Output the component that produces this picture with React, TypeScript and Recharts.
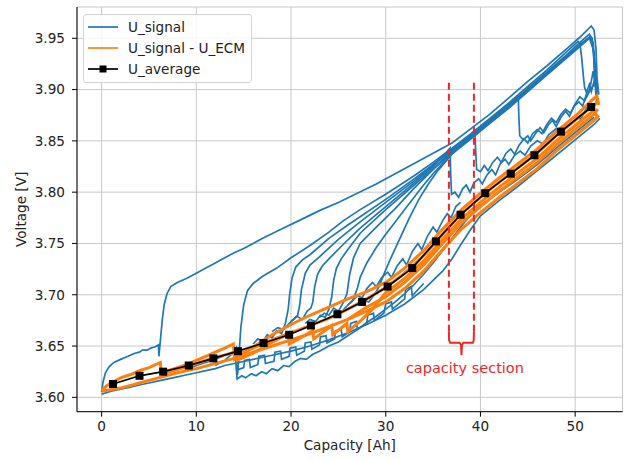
import {
  ComposedChart,
  CartesianGrid,
  Legend,
  Line,
  ReferenceDot,
  ReferenceLine,
  XAxis,
  YAxis,
} from "recharts";

type Pt = [number, number];

const BLUE = "#1f77b4";
const ORANGE = "#ff7f0e";
const RED = "#ef2525";
const FONT = "DejaVu Sans, sans-serif";

const xTicks = [0, 10, 20, 30, 40, 50];
const yTicks = [3.6, 3.65, 3.7, 3.75, 3.8, 3.85, 3.9, 3.95];
const xDomain: [number, number] = [-2.6, 55];
const yDomain: [number, number] = [3.586, 3.9805];

// U_average markers
const avgX = [1.2, 4.0, 6.5, 9.2, 11.8, 14.4, 17.1, 19.8, 22.1, 24.9, 27.5, 30.2, 32.8, 35.3, 37.9, 40.5, 43.2, 45.7, 48.5, 51.7];
const avgY = [3.613, 3.621, 3.625, 3.631, 3.638, 3.645, 3.653, 3.661, 3.67, 3.681, 3.693, 3.708, 3.726, 3.752, 3.778, 3.799, 3.818, 3.836, 3.859, 3.883];

// U_signal traces (one per test cycle)
const sigBottom: Pt[] = [[0, 3.603], [1, 3.606], [2, 3.608], [3, 3.61], [4, 3.612], [5, 3.614], [6, 3.616], [7, 3.618], [8, 3.62], [9, 3.622], [10, 3.624], [11, 3.626], [12, 3.628], [13, 3.631], [14, 3.633], [16, 3.637], [18, 3.641], [20, 3.645], [22, 3.65], [24, 3.656], [26, 3.663], [28, 3.671], [30, 3.68], [32, 3.691], [34, 3.705], [36, 3.723], [37, 3.735], [38, 3.75], [39, 3.764], [40, 3.777], [42, 3.792], [44, 3.806], [46, 3.821], [48, 3.836], [50, 3.851], [52, 3.866], [52.6, 3.872]];
const sigDip: Pt[] = [[12, 3.631], [13, 3.636], [13.6, 3.641], [14.1, 3.646], [14.2, 3.632], [14.3, 3.618], [14.8, 3.621], [15.2, 3.619], [15.8, 3.623], [16.3, 3.621], [16.9, 3.625], [17.4, 3.623], [18, 3.628], [18.6, 3.626], [19.2, 3.631], [19.8, 3.63], [20.4, 3.635], [21, 3.638], [21.6, 3.637], [22.3, 3.642], [23, 3.645], [24, 3.65], [25, 3.654], [26, 3.66], [27, 3.666], [28, 3.673], [29, 3.679], [30, 3.686], [31, 3.693], [32, 3.701], [33, 3.71], [34, 3.72], [35, 3.731], [36, 3.743], [37, 3.755], [38, 3.767], [39, 3.778], [40, 3.787], [42, 3.8], [44, 3.813], [46, 3.827], [48, 3.843], [50, 3.858], [52, 3.873]];
const sigSteps: Pt[] = [[14.4, 3.627], [15, 3.629], [15.1, 3.636], [15.6, 3.637], [15.7, 3.629], [16.5, 3.632], [16.6, 3.64], [17.2, 3.641], [17.3, 3.633], [18.2, 3.635], [18.3, 3.644], [18.9, 3.645], [19, 3.637], [19.8, 3.64], [19.9, 3.648], [20.5, 3.649], [20.6, 3.641], [21.4, 3.645], [21.5, 3.653], [22.1, 3.654], [22.2, 3.647], [23, 3.651], [23.1, 3.659], [23.7, 3.66], [23.8, 3.653], [24.6, 3.657], [24.7, 3.665], [25.3, 3.666], [25.4, 3.659], [26.2, 3.664], [26.3, 3.672], [26.9, 3.674], [27, 3.666], [28, 3.672], [28.1, 3.68], [28.7, 3.682], [28.8, 3.675], [29.8, 3.682], [30, 3.691], [30.6, 3.693], [30.7, 3.686], [32, 3.696], [32.1, 3.705], [32.7, 3.708], [32.8, 3.699], [34, 3.711]];
const sigCycle1: Pt[] = [[0, 3.605], [0.15, 3.615], [0.4, 3.624], [0.8, 3.63], [1.3, 3.634], [2, 3.637], [2.8, 3.64], [3.5, 3.643], [4, 3.644], [4.3, 3.646], [4.8, 3.646], [5.2, 3.648], [5.6, 3.649], [6.0, 3.651], [6.05, 3.64], [6.2, 3.655], [6.4, 3.675], [6.6, 3.69], [6.9, 3.701], [7.3, 3.708], [8, 3.712], [9, 3.716], [10, 3.721], [11, 3.726], [12, 3.731], [13, 3.736], [14, 3.741], [15, 3.745], [17, 3.755], [19, 3.764], [21, 3.773], [23, 3.782], [25, 3.79], [27, 3.799], [29, 3.808], [31, 3.818], [33, 3.828], [35, 3.838], [37, 3.848], [39, 3.862], [41, 3.876], [43, 3.892], [45, 3.908], [47, 3.923], [49, 3.939], [50.5, 3.951], [51.7, 3.962], [52.0, 3.958], [52.2, 3.94], [52.3, 3.915], [52.3, 3.895], [52.2, 3.885]];
const sigCycle2: Pt[] = [[9, 3.627], [10, 3.631], [11, 3.634], [12, 3.637], [13, 3.641], [14, 3.645], [14.2, 3.648], [14.25, 3.628], [14.35, 3.622], [14.5, 3.64], [14.7, 3.668], [15, 3.69], [15.4, 3.704], [16, 3.711], [17, 3.718], [18.5, 3.726], [20, 3.736], [22, 3.748], [24, 3.761], [25.5, 3.772], [27.3, 3.783], [30, 3.798], [33, 3.816], [35, 3.829], [37, 3.843], [39, 3.857], [41, 3.872], [43, 3.887], [45, 3.903], [47, 3.919], [49, 3.936], [50.3, 3.947], [50.5, 3.945], [50.7, 3.93], [50.9, 3.91], [51, 3.902], [51.2, 3.897], [51.5, 3.905], [51.7, 3.898], [52, 3.908], [52.3, 3.897]];
const sigCycle3: Pt[] = [[16, 3.652], [16.5, 3.657], [17, 3.654], [17.5, 3.661], [18, 3.658], [18.5, 3.665], [19, 3.662], [19.4, 3.672], [19.7, 3.686], [19.85, 3.7], [20.1, 3.716], [20.5, 3.727], [21.2, 3.734], [22, 3.739], [24, 3.755], [26, 3.768], [27.3, 3.776], [30, 3.793], [33, 3.813], [35, 3.827], [37, 3.842], [39, 3.856], [41, 3.871], [43, 3.886], [44, 3.893], [44.05, 3.875], [44.15, 3.855], [44.5, 3.851], [45, 3.855], [45.3, 3.85], [45.8, 3.857], [46.3, 3.863], [46.7, 3.858], [47.2, 3.866], [47.6, 3.87], [48, 3.864], [48.5, 3.873], [49, 3.879], [49.4, 3.874], [49.9, 3.884], [50.4, 3.888], [50.8, 3.884], [51.2, 3.896], [51.6, 3.9], [52, 3.905], [52.3, 3.912], [52.5, 3.895]];
const sigCycle4: Pt[] = [[18, 3.664], [18.6, 3.668], [19.2, 3.666], [19.8, 3.672], [20.3, 3.676], [20.7, 3.68], [20.9, 3.689], [21.1, 3.705], [21.5, 3.721], [22, 3.729], [23, 3.737], [25, 3.754], [27.3, 3.771], [30, 3.79], [33, 3.811], [35, 3.826], [37, 3.841], [38.5, 3.852], [39.4, 3.86], [39.5, 3.84], [39.6, 3.822], [40, 3.82], [40.4, 3.826], [40.8, 3.821], [41.3, 3.829], [41.8, 3.834], [42.2, 3.829], [42.7, 3.838], [43.2, 3.842], [43.6, 3.837], [44.1, 3.846], [44.6, 3.852], [45, 3.848], [45.5, 3.857], [46, 3.861], [46.5, 3.857], [47, 3.866], [47.5, 3.872], [48, 3.868], [48.5, 3.876], [49, 3.881], [49.5, 3.877], [50, 3.886], [50.5, 3.893], [51, 3.889], [51.5, 3.898], [51.9, 3.918], [52.1, 3.905], [52.4, 3.9]];
const sigCycle5: Pt[] = [[20, 3.674], [20.6, 3.679], [21.2, 3.676], [21.7, 3.684], [22.1, 3.687], [22.3, 3.693], [22.5, 3.708], [22.8, 3.72], [23.3, 3.728], [24, 3.735], [25.5, 3.749], [27.3, 3.765], [30, 3.786], [33, 3.809], [35, 3.825], [36.8, 3.843], [36.85, 3.82], [36.95, 3.798], [37.3, 3.8], [37.7, 3.795], [38.1, 3.803], [38.5, 3.807], [38.9, 3.8], [39.3, 3.809], [39.8, 3.813], [40.2, 3.808], [40.7, 3.817], [41.2, 3.822], [41.6, 3.817], [42.1, 3.828], [42.6, 3.832], [43, 3.827], [43.6, 3.836], [44.2, 3.84], [44.7, 3.836], [45.3, 3.845], [46, 3.85], [46.6, 3.847], [47.2, 3.856], [48, 3.862], [48.6, 3.858], [49.2, 3.868], [50, 3.874], [50.6, 3.871], [51.2, 3.882], [51.8, 3.89], [52.3, 3.893]];
const sigCycle6: Pt[] = [[21.5, 3.672], [22, 3.676], [22.6, 3.674], [23.1, 3.68], [23.6, 3.678], [24, 3.686], [24.3, 3.698], [24.5, 3.714], [24.8, 3.726], [25.3, 3.735], [26, 3.744], [27.3, 3.76], [30, 3.783], [33, 3.807], [35, 3.823], [37, 3.84], [39, 3.855], [41, 3.87], [43, 3.885], [45, 3.901], [47, 3.917], [49, 3.933], [50.5, 3.946], [51.5, 3.954], [51.8, 3.95], [52, 3.93], [52.1, 3.91], [52.2, 3.893]];
const sigCycle7: Pt[] = [[23, 3.678], [23.5, 3.682], [24, 3.68], [24.5, 3.687], [25, 3.684], [25.5, 3.692], [25.9, 3.701], [26.2, 3.72], [26.6, 3.736], [27.3, 3.75], [29, 3.766], [31, 3.784], [33, 3.804], [35, 3.822], [37, 3.839], [39, 3.854], [41, 3.869], [43, 3.884], [45, 3.9], [47, 3.916], [49, 3.932], [50.5, 3.944], [51.6, 3.952], [51.9, 3.946], [52.1, 3.925], [52.2, 3.9]];
const sigCycle8: Pt[] = [[25.5, 3.685], [26, 3.69], [26.5, 3.694], [27, 3.706], [27.3, 3.717], [28, 3.731], [29, 3.746], [30, 3.759], [31, 3.771], [32, 3.783], [33, 3.795], [34, 3.807], [35, 3.818], [36, 3.828], [37, 3.838], [39, 3.853], [41, 3.868], [43, 3.883], [45, 3.899], [47, 3.915], [49, 3.931], [50.5, 3.943], [51.6, 3.951], [52.0, 3.935], [52.1, 3.905]];
const sigCycle9: Pt[] = [[27, 3.69], [27.6, 3.695], [28.2, 3.693], [28.8, 3.7], [29.3, 3.708], [29.8, 3.72], [30.5, 3.735], [31.5, 3.755], [32.5, 3.775], [33.5, 3.793], [34.5, 3.808], [35.5, 3.821], [37, 3.837], [39, 3.852], [41, 3.867], [43, 3.882], [45, 3.898], [47, 3.914], [49, 3.93], [50.5, 3.942], [51.5, 3.95], [51.9, 3.94], [52.1, 3.91]];
const sigUpper: Pt[] = [[26, 3.69], [27, 3.699], [27.5, 3.697], [28, 3.706], [28.6, 3.712], [29, 3.708], [29.6, 3.717], [30.2, 3.722], [30.6, 3.717], [31.2, 3.728], [31.8, 3.735], [32.2, 3.729], [32.8, 3.742], [33.4, 3.75], [33.8, 3.744], [34.4, 3.757], [35, 3.766], [35.4, 3.761], [36, 3.772], [36.5, 3.779], [36.9, 3.775], [37.4, 3.786], [37.9, 3.79]];

// U_signal - U_ECM traces
const ecmUpper: Pt[] = [[0, 3.607], [0.5, 3.611], [1, 3.614], [2, 3.619], [3, 3.622], [4, 3.626], [5, 3.629], [6.2, 3.634], [6.3, 3.624], [7, 3.626], [8, 3.629], [9, 3.632], [10, 3.636], [11, 3.64], [12, 3.644], [13, 3.648], [13.9, 3.652], [14.05, 3.637], [15, 3.643], [16, 3.649], [17, 3.655], [18, 3.661], [19, 3.666], [20, 3.671], [22, 3.68], [24, 3.688], [26, 3.696], [28, 3.703], [30, 3.712], [32, 3.726], [34, 3.743], [36, 3.764], [38, 3.783], [40, 3.799], [42, 3.814], [44, 3.828], [46, 3.842], [48, 3.859], [50, 3.874], [51.8, 3.89], [52.3, 3.894], [52.5, 3.885]];
const ecmCentre: Pt[] = [[14.5, 3.642], [16, 3.648], [18, 3.656], [20, 3.663], [22, 3.67], [24, 3.677], [26, 3.686], [28, 3.696], [30, 3.707], [32, 3.721], [34, 3.738], [36, 3.759], [38, 3.779], [40, 3.795], [42, 3.81], [44, 3.824], [46, 3.838], [48, 3.855], [50, 3.87], [52, 3.885], [52.4, 3.888]];
const ecmMid: Pt[] = [[6.4, 3.623], [8, 3.627], [10, 3.633], [12, 3.639], [14.2, 3.644], [14.3, 3.636], [16, 3.643], [17.5, 3.651], [19.7, 3.662], [19.8, 3.652], [21, 3.658], [22.3, 3.665], [22.4, 3.657], [24.3, 3.67], [24.4, 3.661], [25.9, 3.672], [26, 3.664], [27.5, 3.676], [28.5, 3.685], [30, 3.702], [32, 3.716], [34, 3.733], [36, 3.754], [38, 3.774], [40, 3.79], [42, 3.805], [44, 3.819], [46, 3.833], [48, 3.85], [50, 3.865], [52, 3.88], [52.4, 3.872]];
const ecmLate: Pt[] = [[26, 3.676], [28, 3.688], [30, 3.698], [32, 3.712], [34, 3.729], [36, 3.75], [38, 3.77], [40, 3.786], [42, 3.801], [44, 3.815], [46, 3.829], [48, 3.846], [50, 3.861], [52, 3.876], [52.4, 3.881]];
const ecmLower: Pt[] = [[0, 3.606], [2, 3.609], [4, 3.614], [6, 3.619], [8, 3.624], [10, 3.628], [12, 3.633], [14, 3.638], [16, 3.644], [18, 3.65], [20, 3.656], [22, 3.662], [24, 3.669], [26, 3.676], [28, 3.684], [30, 3.693], [32, 3.706], [34, 3.723], [36, 3.744], [38, 3.764], [40, 3.78], [42, 3.795], [44, 3.809], [46, 3.823], [48, 3.84], [50, 3.855], [52, 3.87], [52.5, 3.875]];

// capacity section annotation
const sectionStart = 36.67;
const sectionEnd = 39.31;
const sectionTop = 3.909;
const bracketX = [36.67, 36.69, 36.8, 37.8, 37.95, 38.0, 38.05, 38.2, 39.2, 39.29, 39.31];
const bracketY = [3.664, 3.6555, 3.6532, 3.6532, 3.651, 3.6412, 3.651, 3.6532, 3.6532, 3.6555, 3.664];
const sectionLabel = { x: 38.36, y: 3.6286, text: "capacity section" };

const toRows = (pts: Pt[]) => pts.map(([x, y]) => ({ x, y }));

const signalSeries = [sigBottom, sigDip, sigSteps, sigCycle1, sigCycle2, sigCycle3, sigCycle4, sigCycle5, sigCycle6, sigCycle7, sigCycle8, sigCycle9, sigUpper].map(toRows);
const ecmSeries = [ecmLower, ecmLate, ecmMid, ecmCentre, ecmUpper].map(toRows);
const avgRows = avgX.map((x, i) => ({ x, y: avgY[i] }));
const bracketRows = bracketX.map((x, i) => ({ x, y: bracketY[i] }));

const legendItems = [
  { label: "U_signal", color: BLUE, marker: false },
  { label: "U_signal - U_ECM", color: ORANGE, marker: false },
  { label: "U_average", color: "#000", marker: true },
];

function SquareDot(props: any) {
  const { cx, cy, index } = props;
  if (cx == null || cy == null) return null;
  return <rect key={`sq-${index}`} x={cx - 4} y={cy - 4} width={8} height={8} fill="#000" />;
}

function LegendBox() {
  return (
    <div
      style={{
        width: 169,
        boxSizing: "border-box",
        border: "1px solid #d4d4d4",
        borderRadius: 3,
        background: "rgba(255,255,255,0.85)",
        padding: "1px 0 3px 4px",
        fontFamily: FONT,
        fontSize: 13.6,
        color: "#222",
      }}
    >
      {legendItems.map((it) => (
        <div key={it.label} style={{ display: "flex", alignItems: "center", height: 21 }}>
          <svg width={30} height={10} style={{ flex: "none" }}>
            <line x1={0} y1={5} x2={30} y2={5} stroke={it.color} strokeWidth={1.7} />
            {it.marker && <rect x={11.5} y={1.5} width={7} height={7} fill="#000" />}
          </svg>
          <span style={{ marginLeft: 10, whiteSpace: "nowrap" }}>{it.label}</span>
        </div>
      ))}
    </div>
  );
}

export default function App() {
  const tickStyle = { fill: "#222", fontSize: 13.6, fontFamily: FONT };
  return (
    <div style={{ position: "absolute", left: 0, top: 0, background: "#fff" }}>
      <ComposedChart width={624} height={459} margin={{ top: 7, right: 1.5, bottom: 0, left: 0 }}>
        <CartesianGrid stroke="#c8c8c8" strokeWidth={1} />
        <XAxis
          dataKey="x"
          type="number"
          domain={xDomain}
          allowDataOverflow
          ticks={xTicks}
          height={47.3}
          tickSize={5}
          tickMargin={5}
          tick={tickStyle}
          axisLine={{ stroke: "#000" }}
          tickLine={{ stroke: "#000" }}
          label={{ value: "Capacity [Ah]", position: "insideBottom", offset: 9, fill: "#222", fontSize: 13.6, fontFamily: FONT }}
        />
        <XAxis xAxisId="top" orientation="top" type="number" domain={xDomain} height={0} tick={false} tickLine={false} axisLine={{ stroke: "#000" }} />
        <YAxis
          type="number"
          domain={yDomain}
          allowDataOverflow
          ticks={yTicks}
          width={77}
          tickSize={5}
          tickMargin={7}
          tick={tickStyle}
          tickFormatter={(v: number) => v.toFixed(2)}
          axisLine={{ stroke: "#000" }}
          tickLine={{ stroke: "#000" }}
          label={{ value: "Voltage [V]", angle: -90, position: "insideLeft", offset: 21, fill: "#222", fontSize: 13.6, fontFamily: FONT, style: { textAnchor: "middle" } }}
        />
        <YAxis yAxisId="right" orientation="right" type="number" domain={yDomain} width={0} tick={false} tickLine={false} axisLine={{ stroke: "#000" }} />
        <Legend verticalAlign="middle" align="center" wrapperStyle={{ left: 83, top: 14, width: 169 }} content={() => <LegendBox />} />

        {signalSeries.map((rows, i) => (
          <Line key={`sig-${i}`} data={rows} dataKey="y" type="linear" stroke={BLUE} strokeWidth={1.7} dot={false} activeDot={false} isAnimationActive={false} legendType="none" />
        ))}
        {ecmSeries.map((rows, i) => (
          <Line key={`ecm-${i}`} data={rows} dataKey="y" type="linear" stroke={ORANGE} strokeWidth={3} dot={false} activeDot={false} isAnimationActive={false} legendType="none" />
        ))}
        <Line data={avgRows} dataKey="y" type="linear" stroke="#000" strokeWidth={1.7} dot={<SquareDot />} activeDot={false} isAnimationActive={false} legendType="none" />

        <ReferenceLine segment={[{ x: sectionStart, y: bracketY[0] }, { x: sectionStart, y: sectionTop }]} stroke={RED} strokeWidth={2} strokeDasharray="7 4" />
        <ReferenceLine segment={[{ x: sectionEnd, y: bracketY[bracketY.length - 1] }, { x: sectionEnd, y: sectionTop }]} stroke={RED} strokeWidth={2} strokeDasharray="7 4" />
        <Line data={bracketRows} dataKey="y" type="linear" stroke={RED} strokeWidth={2} dot={false} activeDot={false} isAnimationActive={false} legendType="none" />
        <ReferenceDot
          x={sectionLabel.x}
          y={sectionLabel.y}
          r={0}
          stroke="none"
          fill="none"
          label={{ value: sectionLabel.text, position: "center", fill: RED, fontSize: 14.5, fontFamily: FONT }}
        />
      </ComposedChart>
    </div>
  );
}
